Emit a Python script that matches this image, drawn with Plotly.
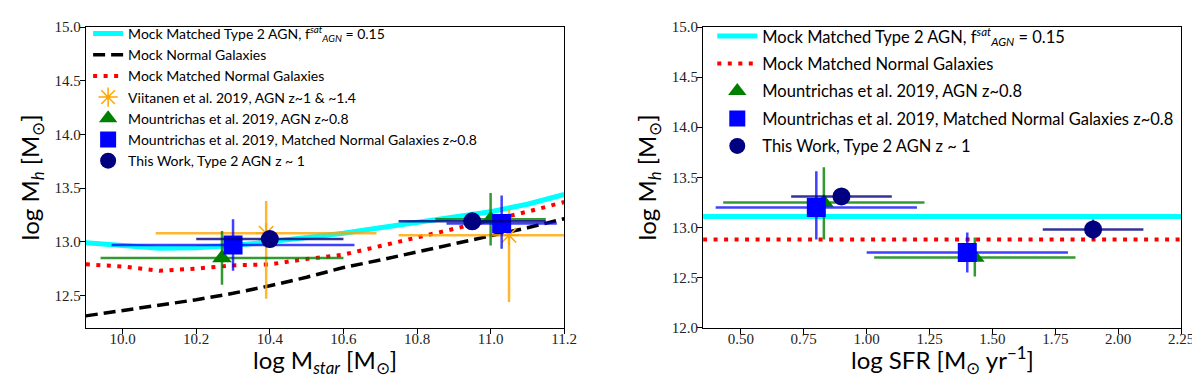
import plotly.graph_objects as go

# ---------------- data: left panel (vs stellar mass) ----------------
mstar_grid = [9.9, 10.0, 10.1, 10.2, 10.3, 10.4, 10.5, 10.6, 10.7, 10.8, 10.9, 11.0, 11.1, 11.2]
mock_agn_mh = [12.99, 12.965, 12.94, 12.945, 12.965, 13.0, 13.035, 13.08, 13.13, 13.18, 13.23, 13.28, 13.35, 13.44]
mock_gal_mh = [12.31, 12.36, 12.41, 12.46, 12.52, 12.59, 12.67, 12.76, 12.83, 12.905, 12.98, 13.05, 13.13, 13.215]
mock_matched_gal_mh = [12.79, 12.77, 12.73, 12.75, 12.78, 12.79, 12.84, 12.88, 12.96, 13.04, 13.12, 13.20, 13.28, 13.37]

viit_x = [10.39, 11.05]
viit_y = [13.08, 13.06]
viit_xerr = [0.30, 0.30]
viit_yerr_up = [0.30, 0.24]
viit_yerr_dn = [0.61, 0.62]

mount_agn_x = [10.27, 11.00]
mount_agn_y = [12.85, 13.21]
mount_agn_xerr = [0.33, 0.15]
mount_agn_yerr = [0.25, 0.245]

mount_gal_x = [10.30, 11.03]
mount_gal_y = [12.97, 13.17]
mount_gal_xerr = [0.33, 0.15]
mount_gal_yerr_up = [0.24, 0.26]
mount_gal_yerr_dn = [0.24, 0.235]

tw_x = [10.40, 10.95]
tw_y = [13.025, 13.19]
tw_xerr = [0.20, 0.20]
tw_yerr = [0.08, 0.08]

# ---------------- data: right panel (vs SFR) ----------------
sfr_grid = [0.35, 2.25]
mock_agn_mh_sfr = [13.11, 13.11]
mock_matched_gal_mh_sfr = [12.88, 12.88]

mount_agn_sfr = [0.83, 1.43]
mount_agn_mh2 = [13.25, 12.70]
mount_agn_sfr_err = [0.40, 0.40]
mount_agn_mh2_up = [0.35, 0.20]
mount_agn_mh2_dn = [0.37, 0.19]

mount_gal_sfr = [0.80, 1.40]
mount_gal_mh2 = [13.20, 12.75]
mount_gal_sfr_err = [0.40, 0.40]
mount_gal_mh2_up = [0.36, 0.20]
mount_gal_mh2_dn = [0.32, 0.20]

tw_sfr = [0.90, 1.90]
tw_mh2 = [13.31, 12.98]
tw_sfr_err = [0.20, 0.20]
tw_mh2_err = [0.08, 0.10]

left_xticks = [10.0, 10.2, 10.4, 10.6, 10.8, 11.0, 11.2]
left_yticks = [12.5, 13.0, 13.5, 14.0, 14.5, 15.0]
right_xticks = [0.50, 0.75, 1.00, 1.25, 1.50, 1.75, 2.00, 2.25]
right_yticks = [12.0, 12.5, 13.0, 13.5, 14.0, 14.5, 15.0]

left_xtitle = "log M<sub><i>star</i></sub> [M<sub>⊙</sub>]"
right_xtitle = "log SFR [M<sub>⊙</sub> yr<sup>−1</sup>]"
mh_title = "log M<sub><i>h</i></sub> [M<sub>⊙</sub>]"

# ---------------- styles ----------------
CYAN = "#00FFFF"
ORANGE = "#FFA500"
GREEN = "#008000"
BLUE = "#0000FF"
NAVY = "#000080"
LEG_FONT = "Lato"
SAT = "Mock Matched Type 2 AGN, f<sup><i>sat</i></sup><sub><i>AGN</i></sub> = 0.15"


def ebar(arr, color, arrminus=None):
    d = dict(type="data", array=arr, color=color, thickness=2.5, width=0, visible=True)
    if arrminus is not None:
        d["symmetric"] = False
        d["arrayminus"] = arrminus
    return d


fig = go.Figure()

# left panel
fig.add_trace(go.Scatter(x=mstar_grid, y=mock_agn_mh, mode="lines", name=SAT,
                         line=dict(color=CYAN, width=5), legend="legend", legendgroup="a1"))
fig.add_trace(go.Scatter(x=mstar_grid, y=mock_gal_mh, mode="lines", name="Mock Normal Galaxies",
                         line=dict(color="black", width=3.5, dash="12px,6px"), legend="legend", legendgroup="a2"))
fig.add_trace(go.Scatter(x=mstar_grid, y=mock_matched_gal_mh, mode="lines", name="Mock Matched Normal Galaxies",
                         line=dict(color="red", width=4, dash="4px,6.5px"), legend="legend", legendgroup="a3"))
fig.add_trace(go.Scatter(x=viit_x, y=viit_y, mode="markers", name="Viitanen et al. 2019, AGN z~1 & ~1.4",
                         marker=dict(symbol="asterisk-open", size=17, color=ORANGE, line=dict(color=ORANGE, width=1.5)),
                         error_x=ebar(viit_xerr, "rgba(255,165,0,0.8)"),
                         error_y=ebar(viit_yerr_up, "rgba(255,165,0,0.8)", viit_yerr_dn),
                         legend="legend", legendgroup="a4"))
fig.add_trace(go.Scatter(x=mount_agn_x, y=mount_agn_y, mode="markers", name="Mountrichas et al. 2019, AGN z~0.8",
                         marker=dict(symbol="triangle-up", size=17, color=GREEN),
                         error_x=ebar(mount_agn_xerr, "rgba(0,128,0,0.8)"),
                         error_y=ebar(mount_agn_yerr, "rgba(0,128,0,0.8)"),
                         legend="legend", legendgroup="a5"))
fig.add_trace(go.Scatter(x=mount_gal_x, y=mount_gal_y, mode="markers",
                         name="Mountrichas et al. 2019, Matched Normal Galaxies z~0.8",
                         marker=dict(symbol="square", size=19, color=BLUE),
                         error_x=ebar(mount_gal_xerr, "rgba(0,0,255,0.75)"),
                         error_y=ebar(mount_gal_yerr_up, "rgba(0,0,255,0.75)", mount_gal_yerr_dn),
                         legend="legend", legendgroup="a6"))
fig.add_trace(go.Scatter(x=tw_x, y=tw_y, mode="markers", name="This Work, Type 2 AGN z ~ 1",
                         marker=dict(symbol="circle", size=18, color=NAVY),
                         error_x=ebar(tw_xerr, "rgba(0,0,128,0.8)"),
                         error_y=ebar(tw_yerr, "rgba(0,0,128,0.8)"),
                         legend="legend", legendgroup="a7"))

# right panel
fig.add_trace(go.Scatter(x=sfr_grid, y=mock_agn_mh_sfr, mode="lines", name=SAT, xaxis="x2", yaxis="y2",
                         line=dict(color=CYAN, width=5), legend="legend2", legendgroup="b1"))
fig.add_trace(go.Scatter(x=sfr_grid, y=mock_matched_gal_mh_sfr, mode="lines", name="Mock Matched Normal Galaxies",
                         xaxis="x2", yaxis="y2",
                         line=dict(color="red", width=4, dash="4px,6.5px"), legend="legend2", legendgroup="b2"))
fig.add_trace(go.Scatter(x=mount_agn_sfr, y=mount_agn_mh2, mode="markers", name="Mountrichas et al. 2019, AGN z~0.8",
                         xaxis="x2", yaxis="y2",
                         marker=dict(symbol="triangle-up", size=17, color=GREEN),
                         error_x=ebar(mount_agn_sfr_err, "rgba(0,128,0,0.8)"),
                         error_y=ebar(mount_agn_mh2_up, "rgba(0,128,0,0.8)", mount_agn_mh2_dn),
                         legend="legend2", legendgroup="b3"))
fig.add_trace(go.Scatter(x=mount_gal_sfr, y=mount_gal_mh2, mode="markers",
                         name="Mountrichas et al. 2019, Matched Normal Galaxies z~0.8",
                         xaxis="x2", yaxis="y2",
                         marker=dict(symbol="square", size=19, color=BLUE),
                         error_x=ebar(mount_gal_sfr_err, "rgba(0,0,255,0.75)"),
                         error_y=ebar(mount_gal_mh2_up, "rgba(0,0,255,0.75)", mount_gal_mh2_dn),
                         legend="legend2", legendgroup="b4"))
fig.add_trace(go.Scatter(x=tw_sfr, y=tw_mh2, mode="markers", name="This Work, Type 2 AGN z ~ 1",
                         xaxis="x2", yaxis="y2",
                         marker=dict(symbol="circle", size=18, color=NAVY),
                         error_x=ebar(tw_sfr_err, "rgba(0,0,128,0.8)"),
                         error_y=ebar(tw_mh2_err, "rgba(0,0,128,0.8)"),
                         legend="legend2", legendgroup="b5"))

W, H = 1200, 377
ydom = [(H - 325.5) / H, (H - 11.5) / H]
xdom1 = [78.7 / W, 562.3 / W]
xdom2 = [702.7 / W, 1186 / W]
tickfont = dict(family="Liberation Serif", size=15, color="#222")
titlefont = dict(family="Lato", size=24, color="black")


def axis(dom, rng, ticks, fmt, labelshift, title=None, standoff=8):
    d = dict(domain=dom, range=rng, tickmode="array", tickvals=ticks,
             ticktext=[fmt.format(t) for t in ticks], ticks="outside", ticklen=5, tickwidth=1.2,
             tickcolor="black", showline=True, linecolor="black", linewidth=1.3, mirror=True,
             showgrid=False, zeroline=False, tickfont=tickfont, ticklabelstandoff=labelshift)
    if title:
        d["title"] = dict(text=title, font=titlefont, standoff=standoff)
    return d


fig.update_layout(
    width=W, height=H, margin=dict(l=0, r=0, t=0, b=0),
    paper_bgcolor="white", plot_bgcolor="white", showlegend=True,
    xaxis=dict(axis(xdom1, [9.9, 11.2], left_xticks, "{:.1f}", -8), anchor="y"),
    yaxis=dict(axis(ydom, [12.2, 15.0], left_yticks, "{:.1f}", -4, mh_title), anchor="x"),
    xaxis2=dict(axis(xdom2, [0.35, 2.25], right_xticks, "{:.2f}", -8), anchor="y2"),
    yaxis2=dict(axis(ydom, [12.0, 15.0], right_yticks, "{:.1f}", -4, mh_title), anchor="x2"),
    legend=dict(x=81 / W, y=(H - 2) / H, xanchor="left", yanchor="top",
                font=dict(family=LEG_FONT, size=14, color="black"),
                bgcolor="rgba(0,0,0,0)", borderwidth=0, tracegroupgap=0, itemsizing="trace"),
    legend2=dict(x=712 / W, y=(H - 3) / H, xanchor="left", yanchor="top",
                 font=dict(family=LEG_FONT, size=16.5, color="black"),
                 bgcolor="rgba(0,0,0,0)", borderwidth=0, tracegroupgap=3, itemsizing="trace",
                 itemwidth=40),
    annotations=[
        dict(text=left_xtitle, xref="paper", yref="paper", x=sum(xdom1) / 2, y=0,
             xanchor="center", yanchor="bottom", yshift=-3, showarrow=False, font=titlefont),
        dict(text=right_xtitle, xref="paper", yref="paper", x=sum(xdom2) / 2, y=0,
             xanchor="center", yanchor="bottom", yshift=-3, showarrow=False, font=titlefont),
    ],
)

fig.write_html("out.html")
